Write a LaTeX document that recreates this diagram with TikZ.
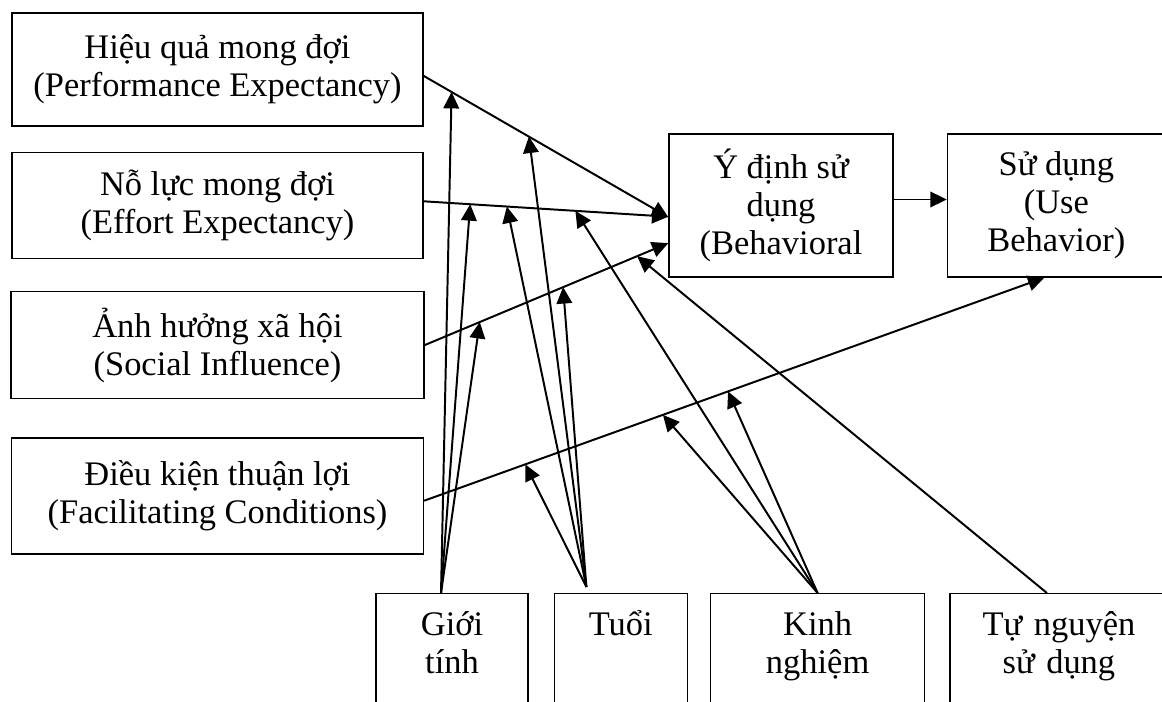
\documentclass[tikz,border=0pt]{standalone}
\usepackage{fontspec}
\setmainfont{Liberation Serif}
\usepackage{xcolor}
\usepackage{tikz}
\usetikzlibrary{arrows.meta,positioning}
\definecolor{ink}{HTML}{000000}
\tikzset{
  box/.style   ={draw=ink,line width=0.9pt,inner sep=4pt,align=center,
                 font=\fontsize{24.5}{27}\selectfont},
  modbox/.style={draw=ink,line width=0.9pt,anchor=north,align=center,
                 inner xsep=0.1cm,inner ysep=0.2cm,text height=0.85cm,
                 text depth=3cm,font=\fontsize{24.5}{27}\selectfont},
  flow/.style  ={-{Triangle[length=4.1mm,width=3.9mm]},line width=1.4pt,draw=ink}
}

\begin{document}
\begin{tikzpicture}[x=0.025cm,y=-0.025cm,node distance=6mm]
        \useasboundingbox (0,0) rectangle (1162,702);
        \clip (0,0) rectangle (1162,702);
        % constructs
        \node[box,minimum width=10.275cm,minimum height=2.825cm] (pe) at (217.5,69.5)
          {Hiệu quả mong đợi\\(Performance Expectancy)};
        \node[box,minimum width=10.275cm,minimum height=2.65cm,below=6.25mm of pe] (ee)
          {Nỗ lực mong đợi\\(Effort Expectancy)};
        \node[box,minimum width=10.325cm,minimum height=2.675cm,below=8mm of ee] (si)
          {Ảnh hưởng xã hội\\(Social Influence)};
        \node[box,minimum width=10.3cm,minimum height=2.9cm,below=9.5mm of si] (fc)
          {Điều kiện thuận lợi\\(Facilitating Conditions)};
        \node[box,minimum width=5.6cm,minimum height=3.575cm] (bi) at (781,205.5)
          {Ý định sử\\dụng\\(Behavioral};
        \node[box,minimum width=5.45cm,minimum height=3.575cm,right=13.25mm of bi] (ub)
          {Sử dụng\\(Use\\Behavior)};
        % moderators
        \node[modbox,text width=3.6cm] (gender) at (452,593) {Giới\\tính};
        \node[modbox,text width=3.125cm,right=6.25mm of gender] (age) {Tuổi};
        \node[modbox,text width=5.15cm,right=5.5mm of age] (exp) {Kinh\\nghiệm};
        \node[modbox,text width=5.25cm,right=6mm of exp] (vol) {Tự nguyện\\sử dụng};
        % main paths
        \draw[flow] ([yshift=-0.16cm]pe.east) -- coordinate[pos=0.114] (pe-g)
          coordinate[pos=0.43] (pe-a) ([yshift=-0.29cm]bi.west);
        \draw[flow] ([yshift=0.1cm]ee.east) -- coordinate[pos=0.19] (ee-g)
          coordinate[pos=0.34] (ee-a) coordinate[pos=0.62] (ee-e) ([yshift=-0.28cm]bi.west);
        \draw[flow] (si.east) -- coordinate[pos=0.226] (si-g) coordinate[pos=0.568] (si-a)
          coordinate[pos=0.872] (si-v) ([yshift=-0.94cm]bi.west);
        \draw[flow] ([yshift=0.15cm]bi.east) -- ([yshift=0.15cm]bi.east -| ub.west);
        \draw[flow] ([yshift=-0.12cm]fc.east) -- coordinate[pos=0.163] (fc-a)
          coordinate[pos=0.385] (fc-e1) coordinate[pos=0.49] (fc-e2) ([xshift=-0.3cm]ub.south);
        % moderating arrows
        \draw[flow] ([xshift=-0.275cm]gender.north) -- (pe-g);
        \draw[flow] ([xshift=-0.275cm]gender.north) -- (ee-g);
        \draw[flow] ([xshift=-0.275cm]gender.north) -- (si-g);
        \draw[flow] ([shift={(-0.86cm,0.15cm)}]age.north) -- (pe-a);
        \draw[flow] ([shift={(-0.86cm,0.15cm)}]age.north) -- (ee-a);
        \draw[flow] ([shift={(-0.86cm,0.15cm)}]age.north) -- (si-a);
        \draw[flow] ([shift={(-0.86cm,0.15cm)}]age.north) -- (fc-a);
        \draw[flow] (exp.north) -- (ee-e);
        \draw[flow] (exp.north) -- (fc-e1);
        \draw[flow] (exp.north) -- (fc-e2);
        \draw[flow] ([xshift=-0.3cm]vol.north) -- (si-v);
      \end{tikzpicture}
\end{document}
